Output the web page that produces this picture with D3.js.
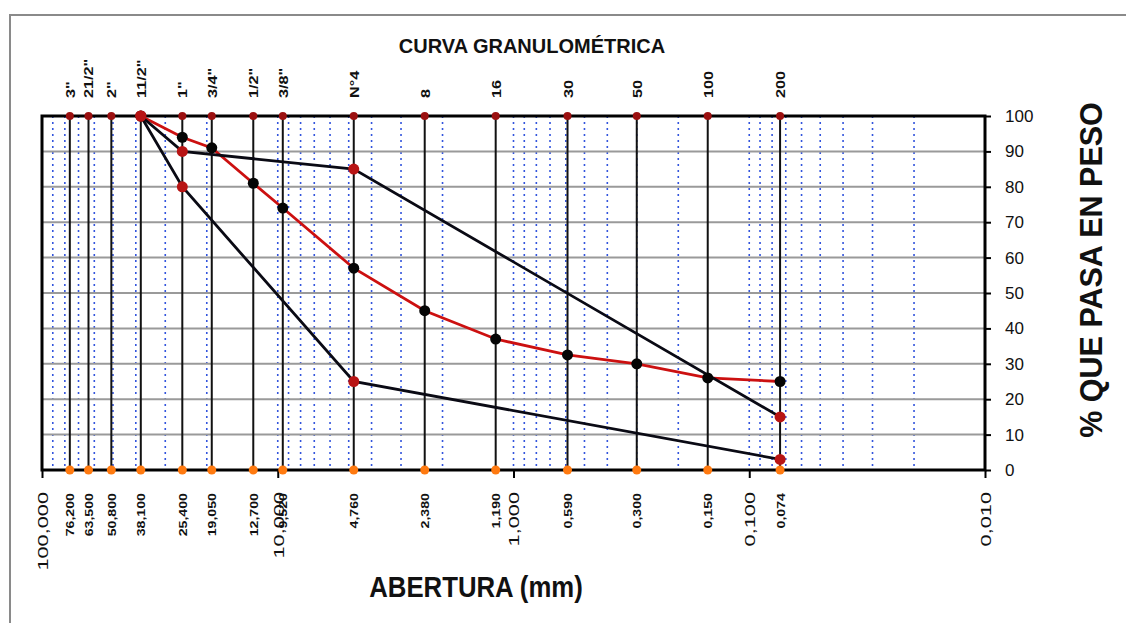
<!DOCTYPE html>
<html>
<head>
<meta charset="utf-8">
<script src="https://cdn.jsdelivr.net/npm/d3@7"></script>
<style>
  body { margin: 0; background: #fff; }
  svg { display: block; font-family: Arial, "Liberation Sans", sans-serif; }
</style>
</head>
<body>
<svg id="chart"></svg>
<script>
// data
const sieveNames = ['3"', '21/2"', '2"', '11/2"', '1"', '3/4"', '1/2"', '3/8"', 'N°4', '8', '16', '30', '50', '100', '200'];
const sieveOpen = [76.2, 63.5, 50.8, 38.1, 25.4, 19.05, 12.7, 9.52, 4.76, 2.38, 1.19, 0.59, 0.3, 0.15, 0.074];
const sieveLabels = ['76,200', '63,500', '50,800', '38,100', '25,400', '19,050', '12,700', '9,520', '4,760', '2,380', '1,190', '0,590', '0,300', '0,150', '0,074'];
const decadeVals = [100, 10, 1, 0.1, 0.01];
const decadeLabels = ['100,000', '10,000', '1,000', '0,100', '0,010'];
const yTicks = [0, 10, 20, 30, 40, 50, 60, 70, 80, 90, 100];

// gradation curve (red)
const curveOpen = [38.1, 25.4, 19.05, 12.7, 9.52, 4.76, 2.38, 1.19, 0.59, 0.3, 0.15, 0.074];
const curvePass = [100, 94, 91, 81, 74, 57, 45, 37, 32.5, 30, 26, 25];
// limits (black)
const upperOpen = [38.1, 25.4, 4.76, 0.074];
const upperPass = [100, 90, 85, 15];
const lowerOpen = [38.1, 25.4, 4.76, 0.074];
const lowerPass = [100, 80, 25, 3];

const width = 1126;
const height = 623;
const plotL = 42, plotR = 985, plotT = 116, plotB = 470;

const svg = d3.select('#chart')
  .attr('width', width)
  .attr('height', height);

// outer frame
svg.append('path')
  .attr('d', `M10,${height} L10,15 L${width},15`)
  .attr('fill', 'none')
  .attr('stroke', '#8a8a8a')
  .attr('stroke-width', 2);

const x = d3.scaleLog().domain([100, 0.01]).range([plotL, plotR]);
const y = d3.scaleLinear().domain([0, 100]).range([plotB, plotT]);

// log grid (dotted blue)
const logGrid = [];
decadeVals.slice(0, 4).forEach(d => {
  for (let k = 1; k <= 9; k++) logGrid.push(d / 10 * k);
});
svg.append('g')
  .selectAll('line')
  .data(logGrid.filter(v => v < 100 && v > 0.01))
  .enter()
  .append('line')
  .attr('x1', d => x(d)).attr('x2', d => x(d))
  .attr('y1', plotT).attr('y2', plotB)
  .attr('stroke', '#3355dd')
  .attr('stroke-width', 1.6)
  .attr('stroke-dasharray', '2,4');

// horizontal grid
svg.append('g')
  .selectAll('line')
  .data(yTicks.filter(d => d > 0 && d < 100))
  .enter()
  .append('line')
  .attr('x1', plotL).attr('x2', plotR)
  .attr('y1', d => y(d)).attr('y2', d => y(d))
  .attr('stroke', '#9a9a9a')
  .attr('stroke-width', 2);

// sieve lines
svg.append('g')
  .selectAll('line')
  .data(sieveOpen)
  .enter()
  .append('line')
  .attr('x1', d => x(d)).attr('x2', d => x(d))
  .attr('y1', plotT).attr('y2', plotB)
  .attr('stroke', '#111')
  .attr('stroke-width', 2);

// frame
svg.append('rect')
  .attr('x', plotL).attr('y', plotT)
  .attr('width', plotR - plotL).attr('height', plotB - plotT)
  .attr('fill', 'none')
  .attr('stroke', '#000')
  .attr('stroke-width', 3);

// axes
const xAxis = d3.axisBottom(x)
  .tickValues(decadeVals)
  .tickFormat((d, i) => decadeLabels[i])
  .tickSize(8)
  .tickSizeOuter(0);
const gx = svg.append('g')
  .attr('transform', `translate(0, ${plotB})`)
  .call(xAxis);
gx.select('.domain').remove();
gx.selectAll('line').attr('stroke', '#000').attr('stroke-width', 2);
gx.selectAll('text')
  .attr('font-size', 15)
  .attr('fill', '#111')
  .attr('text-anchor', 'end')
  .attr('dy', '0.35em')
  .attr('y', 0)
  .attr('transform', 'translate(0, 22) rotate(-90) scale(1.45, 1)');

const yAxis = d3.axisRight(y)
  .tickValues(yTicks)
  .tickSize(6)
  .tickSizeOuter(0)
  .tickPadding(14);
const gy = svg.append('g')
  .attr('transform', `translate(${plotR}, 0)`)
  .call(yAxis);
gy.select('.domain').remove();
gy.selectAll('line').attr('stroke', '#000').attr('stroke-width', 2);
gy.selectAll('text')
  .attr('font-size', 17)
  .attr('fill', '#111')
  .attr('font-family', '"Liberation Sans Narrow", Arial, sans-serif');

// top sieve names
svg.append('g')
  .selectAll('text')
  .data(sieveOpen)
  .enter()
  .append('text')
  .attr('transform', d => `translate(${x(d) + 5}, 98) rotate(-90) scale(1.3, 1)`)
  .attr('font-size', 12.5)
  .attr('font-weight', 'bold')
  .attr('fill', '#111')
  .text((d, i) => sieveNames[i]);

// bottom sieve openings
svg.append('g')
  .selectAll('text')
  .data(sieveOpen)
  .enter()
  .append('text')
  .attr('transform', d => `translate(${x(d) + 4.5}, 493) rotate(-90) scale(1.35, 1)`)
  .attr('text-anchor', 'end')
  .attr('font-size', 10.5)
  .attr('font-weight', 'bold')
  .attr('fill', '#111')
  .text((d, i) => sieveLabels[i]);

// sieve markers top / bottom
svg.append('g')
  .selectAll('circle')
  .data(sieveOpen)
  .enter()
  .append('circle')
  .attr('cx', d => x(d)).attr('cy', y(100))
  .attr('r', 4)
  .attr('fill', '#9b1010');
svg.append('g')
  .selectAll('circle')
  .data(sieveOpen)
  .enter()
  .append('circle')
  .attr('cx', d => x(d)).attr('cy', y(0))
  .attr('r', 4.5)
  .attr('fill', '#ff7a10');

// curves
const line = d3.line().x(d => x(d[0])).y(d => y(d[1]));
const curve = curveOpen.map((d, i) => [d, curvePass[i]]);
const upper = upperOpen.map((d, i) => [d, upperPass[i]]);
const lower = lowerOpen.map((d, i) => [d, lowerPass[i]]);

svg.append('path')
  .datum(curve)
  .attr('d', line)
  .attr('fill', 'none')
  .attr('stroke', '#cc1010')
  .attr('stroke-width', 2.8);

[upper, lower].forEach(s => {
  svg.append('path')
    .datum(s)
    .attr('d', line)
    .attr('fill', 'none')
    .attr('stroke', '#0a0a14')
    .attr('stroke-width', 2.8);
});

svg.append('g')
  .selectAll('circle')
  .data(curve)
  .enter()
  .append('circle')
  .attr('cx', d => x(d[0])).attr('cy', d => y(d[1]))
  .attr('r', 5.5)
  .attr('fill', '#050505');

svg.append('g')
  .selectAll('circle')
  .data(upper.concat(lower))
  .enter()
  .append('circle')
  .attr('cx', d => x(d[0])).attr('cy', d => y(d[1]))
  .attr('r', 5.5)
  .attr('fill', '#b81414');

// titles
svg.append('text')
  .attr('x', 532).attr('y', 53)
  .attr('text-anchor', 'middle')
  .attr('font-size', 20)
  .attr('font-weight', 'bold')
  .attr('fill', '#111')
  .text('CURVA GRANULOMÉTRICA');

svg.append('text')
  .attr('transform', 'translate(476, 597) scale(1.03, 1.2)')
  .attr('text-anchor', 'middle')
  .attr('font-size', 25)
  .attr('font-weight', 'bold')
  .attr('fill', '#111')
  .text('ABERTURA (mm)');

svg.append('text')
  .attr('transform', 'translate(1102, 270) rotate(-90)')
  .attr('text-anchor', 'middle')
  .attr('font-size', 30.5)
  .attr('font-weight', 'bold')
  .attr('fill', '#111')
  .text('% QUE PASA EN PESO');
</script>
</body>
</html>
